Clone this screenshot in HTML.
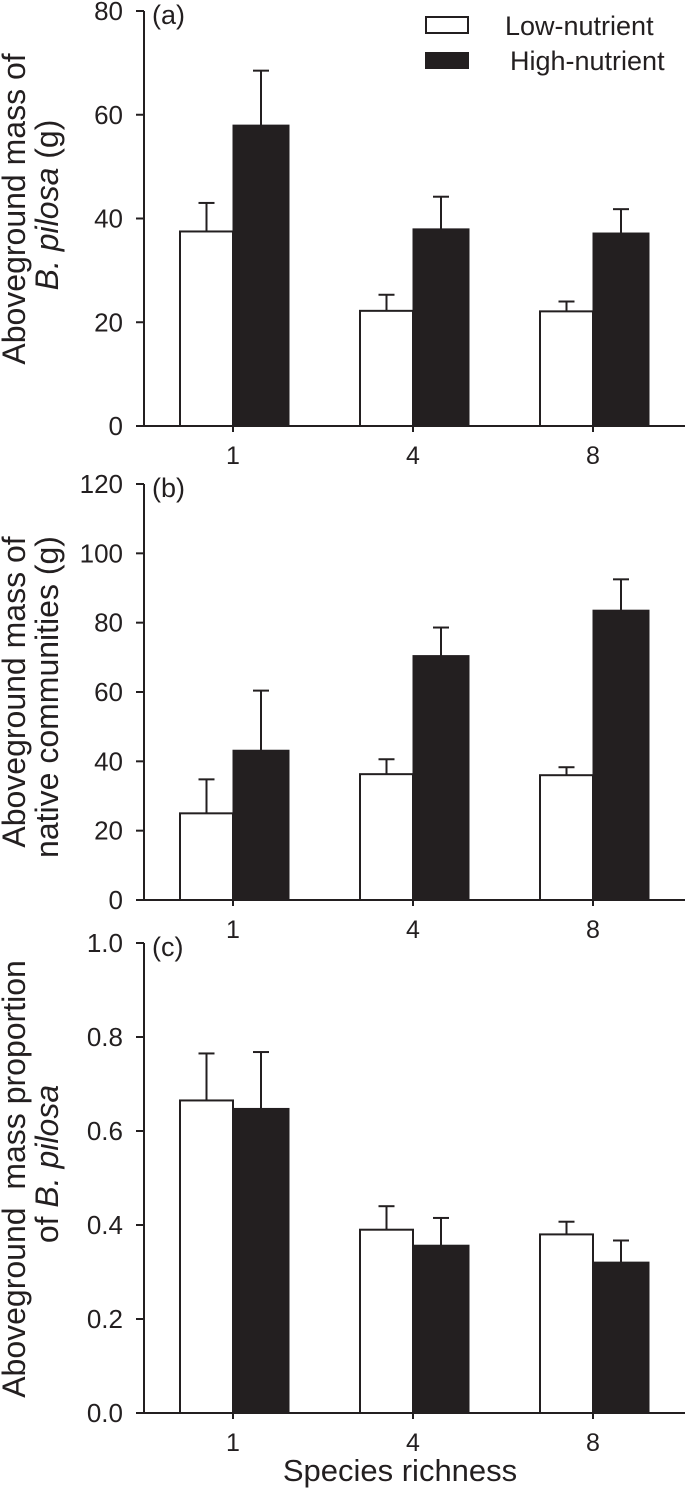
<!DOCTYPE html>
<html><head><meta charset="utf-8"><style>
body{margin:0;background:#fff}
svg{display:block;font-family:"Liberation Sans",Arial,sans-serif}
</style></head><body>
<svg id="chart" width="685" height="1497" viewBox="0 0 685 1497" xmlns="http://www.w3.org/2000/svg"></svg>
<script>
const categories = ["1","4","8"];
const lowA = [37.5, 22.2, 22.1];
const lowAErr = [5.5, 3.1, 1.9];
const highA = [58, 38, 37.2];
const highAErr = [10.5, 6.2, 4.6];
const lowB = [25, 36.3, 36];
const lowBErr = [9.8, 4.3, 2.3];
const highB = [43.2, 70.5, 83.6];
const highBErr = [17.2, 8.1, 8.9];
const lowC = [0.665, 0.39, 0.38];
const lowCErr = [0.1, 0.05, 0.027];
const highC = [0.648, 0.357, 0.321];
const highCErr = [0.12, 0.058, 0.046];
const ticksA = [0,20,40,60,80];
const ticksB = [0,20,40,60,80,100,120];
const ticksC = [0,0.2,0.4,0.6,0.8,1.0];
const labelsC = ["0.0","0.2","0.4","0.6","0.8","1.0"];

const svg = document.getElementById('chart');
const NS = "http://www.w3.org/2000/svg";
function mk(tag, attrs, parent){const e=document.createElementNS(NS,tag);for(const k in attrs)e.setAttribute(k,attrs[k]);(parent||svg).appendChild(e);return e;}
const xAxisL=144, xAxisR=685;
const groupX = i => 233 + i*180;

const panels = [
 {id:'a', y0:426, yTop:11, max:80, ticks:ticksA, labels:ticksA.map(String), low:lowA, lowE:lowAErr, high:highA, highE:highAErr},
 {id:'b', y0:900, yTop:484, max:120, ticks:ticksB, labels:ticksB.map(String), low:lowB, lowE:lowBErr, high:highB, highE:highBErr},
 {id:'c', y0:1413, yTop:943, max:1.0, ticks:ticksC, labels:labelsC, low:lowC, lowE:lowCErr, high:highC, highE:highCErr}
];
panels.forEach(p=>{
  const g = mk('g',{});
  
  
  const y = v => p.y0 - v/p.max*(p.y0-p.yTop);
  const ax = mk('line',{x1:xAxisL,y1:p.yTop,x2:xAxisL,y2:p.y0,stroke:'#231f20','stroke-width':2},g);
  
  
  const xa = mk('line',{x1:xAxisL-8,y1:p.y0,x2:xAxisR,y2:p.y0,stroke:'#231f20','stroke-width':2},g);
  
  
  p.ticks.forEach((t,i)=>{
    mk('line',{x1:xAxisL-8,y1:y(t),x2:xAxisL,y2:y(t),stroke:'#231f20','stroke-width':2},g);
    const tl = mk('text',{x:123,y:y(t)+9,'text-anchor':'end','font-size':26,fill:'#231f20'},g);
    tl.textContent = p.labels[i];
    
    
  });
  categories.forEach((c,i)=>{
    const cx = groupX(i);
    mk('line',{x1:cx,y1:p.y0,x2:cx,y2:p.y0+6,stroke:'#231f20','stroke-width':2},g);
    const cl = mk('text',{x:cx,y:p.y0+38,'text-anchor':'middle','font-size':25,fill:'#231f20'},g);
    cl.textContent = c;
    
    
    [[p.low[i],p.lowE[i],cx-26.5],[p.high[i],p.highE[i],cx+28]].forEach(([v,e,ex])=>{
      mk('line',{x1:ex,y1:y(v),x2:ex,y2:y(v+e),stroke:'#231f20','stroke-width':2},g);
      mk('line',{x1:ex-8,y1:y(v+e),x2:ex+8,y2:y(v+e),stroke:'#231f20','stroke-width':2},g);
    });
    const lb = mk('rect',{x:cx-53,y:y(p.low[i]),width:53,height:p.y0-y(p.low[i]),fill:'#fff',stroke:'#231f20','stroke-width':2},g);
    
    
    const hb = mk('rect',{x:cx,y:y(p.high[i]),width:56,height:p.y0-y(p.high[i]),fill:'#231f20',stroke:'#231f20','stroke-width':1},g);
    
    
  });
  const pl = mk('text',{x:152,y:p.yTop+13,'font-size':27,fill:'#231f20'},g);
  pl.textContent = '('+p.id+')';
  
  
});
</script>
<svg style="position:absolute;left:0;top:0" width="685" height="1497">
 <g font-family="Liberation Sans, Arial, sans-serif" fill="#231f20">
  <rect x="426" y="17" width="42" height="16" fill="#fff" stroke="#231f20" stroke-width="2"/>
  <text x="505" y="35" font-size="27">Low-nutrient</text>
  <rect x="425" y="52" width="44" height="17" fill="#231f20"/>
  <text x="510" y="70" font-size="27">High-nutrient</text>
  <text font-size="32" text-anchor="middle" transform="translate(25,209) rotate(-90)">Aboveground mass of</text>
  <text font-size="32" text-anchor="middle" transform="translate(58,205) rotate(-90)"><tspan font-style="italic">B. pilosa</tspan> (g)</text>
  <text font-size="32" text-anchor="middle" transform="translate(25,692) rotate(-90)">Aboveground mass of</text>
  <text font-size="32" text-anchor="middle" transform="translate(58,697) rotate(-90)">native communities (g)</text>
  <text font-size="32" text-anchor="middle" xml:space="preserve" transform="translate(25,1179) rotate(-90)">Aboveground  mass proportion</text>
  <text font-size="32" text-anchor="middle" transform="translate(58,1164) rotate(-90)">of <tspan font-style="italic">B. pilosa</tspan></text>
  <text x="400" y="1481" font-size="31" text-anchor="middle">Species richness</text>
 </g>
</svg>
</body></html>
